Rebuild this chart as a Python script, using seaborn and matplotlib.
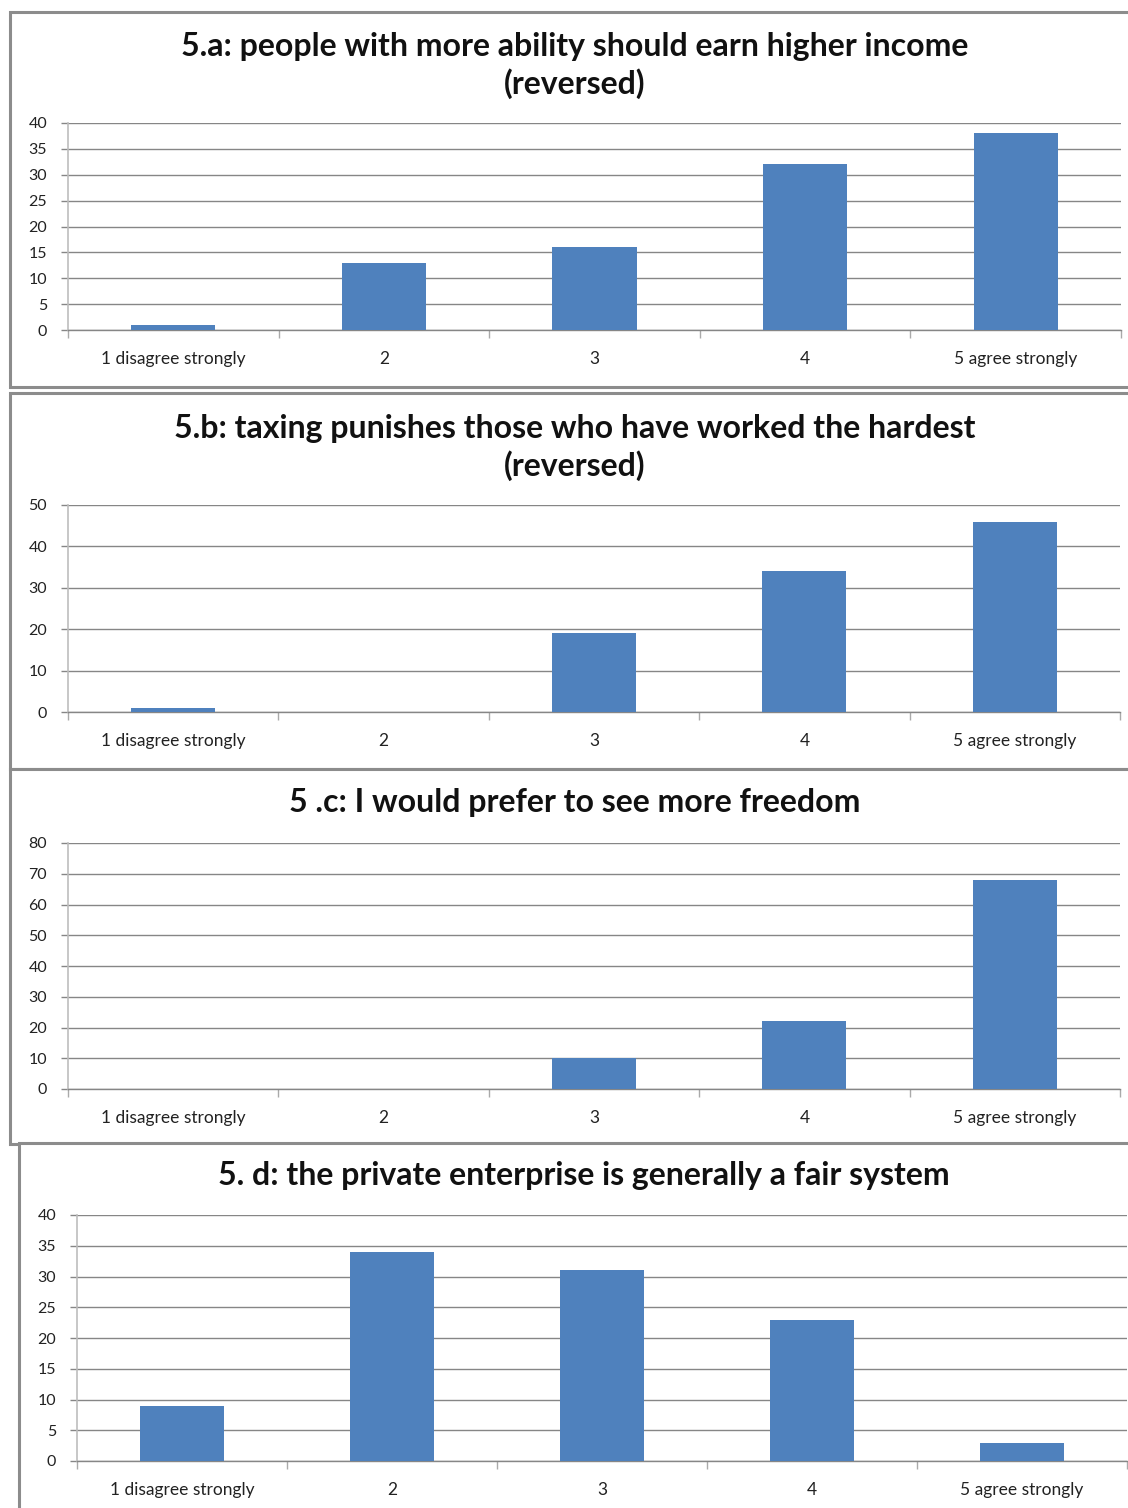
import matplotlib
matplotlib.use("Agg")
import matplotlib.pyplot as plt
from matplotlib.patches import Rectangle
import seaborn as sns
import pandas as pd

# Response categories shared by all four questions
categories = ["1 disagree strongly", "2", "3", "4", "5 agree strongly"]

# Number of responses per category
values_a = [1, 13, 16, 32, 38]
values_b = [1, 0, 19, 34, 46]
values_c = [0, 0, 10, 22, 68]
values_d = [9, 34, 31, 23, 3]

titles = [
    "5.a: people with more ability should earn higher income\n(reversed)",
    "5.b: taxing punishes those who have worked the hardest\n(reversed)",
    "5 .c: I would prefer to see more freedom",
    "5. d: the private enterprise is generally a fair system",
]
y_max = [40, 50, 80, 40]
y_step = [5, 10, 10, 5]

BAR = "#4F81BD"
GRID = "#868686"
FRAME = "#8c8c8c"

sns.set_theme(style="white")
plt.rcParams["font.family"] = ["Lato", "DejaVu Sans"]

W, H = 1128, 1508
fig = plt.figure(figsize=(W / 100, H / 100), dpi=100)


def fx(px):
    return px / W


def fy(py):
    return 1 - py / H


# Chart frames: (left, top, right, bottom) in pixels
frames = [(10, 12, 1140, 387), (10, 393, 1140, 769), (10, 769, 1140, 1144), (19, 1143, 1140, 1520)]
for (l, t, r, b) in frames:
    fig.add_artist(Rectangle((fx(l), fy(b)), fx(r - l), fy(t) - fy(b),
                             transform=fig.transFigure, fill=True, facecolor="white",
                             edgecolor=FRAME, linewidth=2.2, zorder=0))

# Plot areas: (left, top, right, bottom) in pixels
areas = [(68, 123, 1121, 330), (68, 505, 1120, 712), (68, 843, 1120, 1089), (77, 1215, 1127, 1461)]
# Title centres: (x, y) in pixels
title_pos = [(575, 65.5), (575, 447.5), (575, 803), (584, 1176)]

datasets = [values_a, values_b, values_c, values_d]

for i, vals in enumerate(datasets):
    l, t, r, b = areas[i]
    ax = fig.add_axes([fx(l), fy(b), fx(r - l), fy(t) - fy(b)])
    ax.set_facecolor("none")
    df = pd.DataFrame({"category": categories, "count": vals})
    sns.barplot(data=df, x="category", y="count", color=BAR, width=0.4,
                saturation=1, ax=ax, zorder=3)
    ax.set_xlim(-0.5, len(categories) - 0.5)
    ax.set_ylim(0, y_max[i])
    ax.set_yticks(range(0, y_max[i] + 1, y_step[i]))
    ax.set_xlabel("")
    ax.set_ylabel("")
    ax.grid(axis="y", color=GRID, linewidth=1.0, zorder=0)
    ax.grid(axis="x", visible=False)
    for s in ["top", "right"]:
        ax.spines[s].set_visible(False)
    ax.spines["left"].set_color("#bdbdbd")
    ax.spines["left"].set_linewidth(1.2)
    ax.spines["bottom"].set_color(GRID)
    ax.spines["bottom"].set_linewidth(1.0)
    ax.tick_params(axis="y", which="major", direction="out", length=5, width=1,
                   color=GRID, pad=10, labelsize=11.5, labelcolor="#222222", left=True)
    ax.tick_params(axis="x", which="major", length=0, pad=15, labelsize=12.5,
                   labelcolor="#222222", bottom=True)
    ax.set_xticks([k - 0.5 for k in range(len(categories) + 1)], minor=True)
    ax.tick_params(axis="x", which="minor", direction="out", length=6, width=1,
                   color="#aaaaaa", bottom=True)
    for p in ax.patches:
        p.set_edgecolor("none")

    tx, ty = title_pos[i]
    fig.text(fx(tx), fy(ty), titles[i], ha="center", va="center",
             fontsize=23, fontweight="bold", color="#111111", linespacing=1.3)

fig.savefig("out.png", dpi=100, facecolor="white")
